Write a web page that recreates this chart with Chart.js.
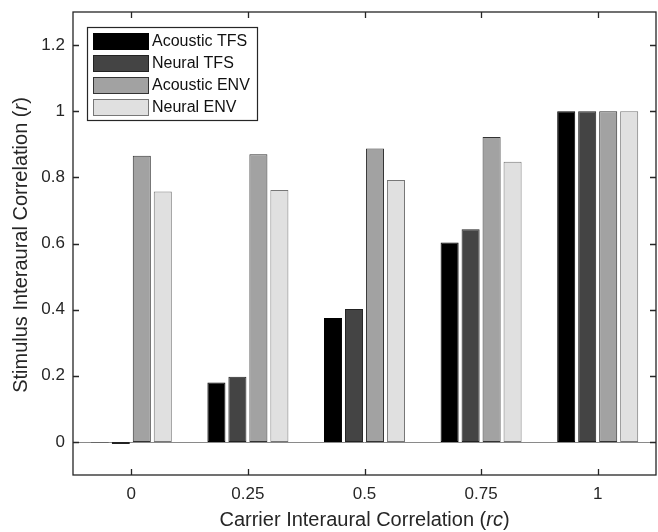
<!DOCTYPE html>
<html>
<head>
<meta charset="utf-8">
<script src="https://cdn.jsdelivr.net/npm/chart.js@4.4.1/dist/chart.umd.min.js"></script>
<style>
  html, body { margin: 0; padding: 0; background: #fff; }
  #wrap { width: 658px; height: 532px; }
</style>
</head>
<body>
<div id="wrap"><canvas id="chart"></canvas></div>
<script>
const categories = ['0', '0.25', '0.5', '0.75', '1'];
const acousticTFS = [-0.002, 0.180, 0.375, 0.603, 1.0];
const neuralTFS   = [-0.006, 0.197, 0.402, 0.643, 1.0];
const acousticENV = [0.865, 0.870, 0.887, 0.922, 1.0];
const neuralENV   = [0.757, 0.762, 0.792, 0.847, 1.0];
const yTicks = [0, 0.2, 0.4, 0.6, 0.8, 1, 1.2];

const FONT = '"Liberation Sans", Arial, sans-serif';
const INK = '#262626';

// draw a string made of normal/italic parts, centred at (0,0) of current transform
function drawParts(ctx, parts, size) {
  let total = 0;
  const widths = parts.map(p => {
    ctx.font = (p.italic ? 'italic ' : '') + size + 'px ' + FONT;
    const w = ctx.measureText(p.text).width;
    total += w;
    return w;
  });
  let x = -total / 2;
  parts.forEach((p, i) => {
    ctx.font = (p.italic ? 'italic ' : '') + size + 'px ' + FONT;
    ctx.fillText(p.text, x, 0);
    x += widths[i];
  });
}

const framePlugin = {
  id: 'frame',
  beforeDatasetsDraw(chart) {
    const { ctx, chartArea: a, scales: { y } } = chart;
    // bar baseline at zero
    ctx.save();
    ctx.strokeStyle = '#8a8a8a';
    ctx.lineWidth = 1;
    const y0 = Math.round(y.getPixelForValue(0)) + 0.5;
    ctx.beginPath();
    ctx.moveTo(a.left, y0);
    ctx.lineTo(a.right, y0);
    ctx.stroke();
    ctx.restore();
  },
  afterDatasetsDraw(chart) {
    const { ctx, chartArea: a, scales: { x, y } } = chart;
    ctx.save();
    ctx.strokeStyle = INK;
    ctx.lineWidth = 1.3;
    ctx.strokeRect(a.left, a.top, a.right - a.left, a.bottom - a.top);
    const tl = 6;
    ctx.beginPath();
    yTicks.forEach(v => {
      const py = Math.round(y.getPixelForValue(v)) + 0.5;
      ctx.moveTo(a.left, py); ctx.lineTo(a.left + tl, py);
      ctx.moveTo(a.right, py); ctx.lineTo(a.right - tl, py);
    });
    categories.forEach((c, i) => {
      const px = Math.round(x.getPixelForTick(i)) + 0.5;
      ctx.moveTo(px, a.bottom); ctx.lineTo(px, a.bottom - tl);
      ctx.moveTo(px, a.top); ctx.lineTo(px, a.top + tl);
    });
    ctx.stroke();

    // legend box
    const bx = 87, by = 27, bw = 170, bh = 93;
    ctx.fillStyle = '#fff';
    ctx.fillRect(bx, by, bw, bh);
    ctx.lineWidth = 1.2;
    ctx.strokeRect(bx + 0.5, by + 0.5, bw, bh);
    chart.data.datasets.forEach((ds, i) => {
      const cy = 41 + i * 22;
      ctx.fillStyle = ds.backgroundColor;
      ctx.fillRect(93, cy - 8, 55, 16);
      ctx.strokeStyle = ds.borderColor;
      ctx.lineWidth = 1;
      ctx.strokeRect(93.5, cy - 7.5, 55, 16);
      ctx.fillStyle = '#111';
      ctx.font = '16px ' + FONT;
      ctx.textBaseline = 'middle';
      ctx.textAlign = 'left';
      ctx.fillText(ds.label, 152, cy + 1);
    });

    // axis titles
    ctx.fillStyle = INK;
    ctx.textBaseline = 'middle';
    ctx.textAlign = 'left';
    ctx.save();
    ctx.translate((a.left + a.right) / 2, 520);
    drawParts(ctx, [{ text: 'Carrier Interaural Correlation (' }, { text: 'rc', italic: true }, { text: ')' }], 20);
    ctx.restore();
    ctx.save();
    ctx.translate(21, 245);
    ctx.rotate(-Math.PI / 2);
    drawParts(ctx, [{ text: 'Stimulus Interaural Correlation (' }, { text: 'r', italic: true }, { text: ')' }], 20);
    ctx.restore();
    ctx.restore();
  }
};

function bars(label, data, fill, border) {
  return {
    label, data,
    backgroundColor: fill,
    borderColor: border,
    borderWidth: 1,
    borderSkipped: false,
    categoryPercentage: 0.72,
    barPercentage: 0.86
  };
}

new Chart(document.getElementById('chart'), {
  type: 'bar',
  data: {
    labels: categories,
    datasets: [
      bars('Acoustic TFS', acousticTFS, '#000000', '#000000'),
      bars('Neural TFS', neuralTFS, '#444444', '#222222'),
      bars('Acoustic ENV', acousticENV, '#a2a2a2', '#333333'),
      bars('Neural ENV', neuralENV, '#e0e0e0', '#777777')
    ]
  },
  options: {
    responsive: true,
    maintainAspectRatio: false,
    animation: false,
    layout: { padding: { top: 12, right: 2, left: 0, bottom: 0 } },
    plugins: { legend: { display: false }, tooltip: { enabled: false } },
    scales: {
      x: {
        offset: true,
        grid: { display: false, drawTicks: false },
        border: { display: false },
        ticks: { color: INK, font: { family: FONT, size: 17 }, padding: 9, maxRotation: 0 },
        afterFit(s) { s.height = 57; s.paddingLeft = 0; s.paddingRight = 0; }
      },
      y: {
        min: -0.1, max: 1.3,
        grid: { display: false, drawTicks: false },
        border: { display: false },
        ticks: {
          color: INK, font: { family: FONT, size: 17 }, padding: 8,
          callback: v => String(Math.round(v * 10) / 10)
        },
        afterBuildTicks(s) { s.ticks = yTicks.map(v => ({ value: v })); },
        afterFit(s) { s.width = 73; s.paddingTop = 0; s.paddingBottom = 0; }
      }
    }
  },
  plugins: [framePlugin]
});
</script>
</body>
</html>
